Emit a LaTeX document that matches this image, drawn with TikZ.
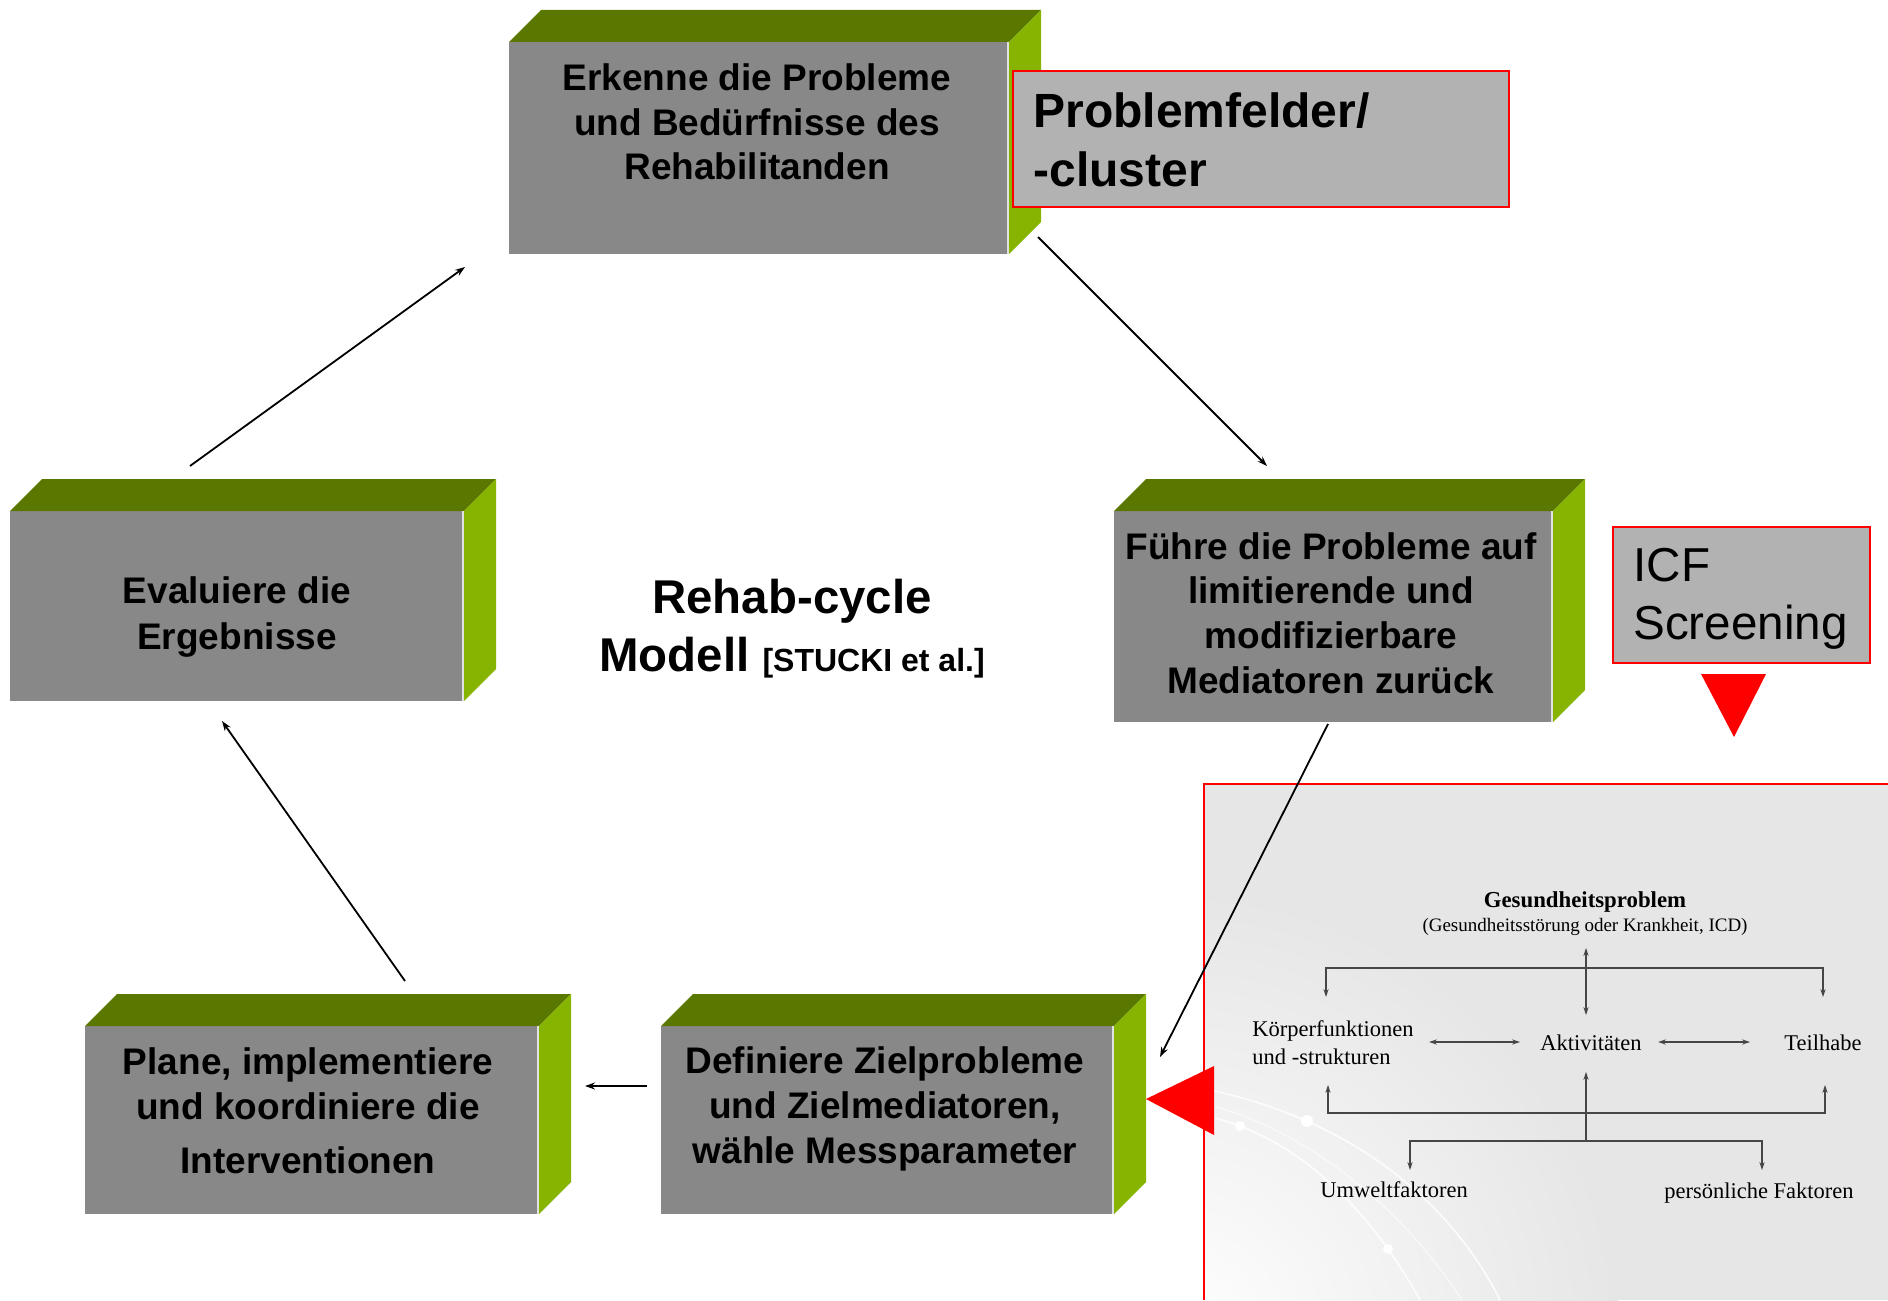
\documentclass[tikz,border=0pt]{standalone}
\usepackage{fontspec}
\setmainfont{Liberation Sans}
\newfontfamily\icfserif{Liberation Serif}
\usetikzlibrary{arrows.meta,calc}
\definecolor{frontgray}{RGB}{136,136,136}
\definecolor{topolive}{RGB}{90,120,0}
\definecolor{sidegreen}{RGB}{134,180,0}
\definecolor{labelgray}{RGB}{178,178,178}
\definecolor{panelgray}{RGB}{230,230,230}
\definecolor{icfline}{RGB}{70,70,70}
\newcommand\drawcubefaces[1]{%
  \fill[topface] (#1.north west) -- ++(32,-32) -- ($(#1.north east)+(32,-32)$) -- (#1.north east) -- cycle;
  \fill[sideface] (#1.north east) -- ++(32,-32) -- ($(#1.south east)+(32,-32)$) -- (#1.south east) -- cycle;
  \draw[edgelight] ([xshift=-0.6pt]#1.north east) -- ([xshift=-0.6pt]#1.south east);
}
\begin{document}
\begin{tikzpicture}[x=0.5pt,y=-0.5pt,
  front/.style={fill=frontgray, inner sep=0pt, outer sep=0pt},
  boxtext/.style={font=\fontsize{18.5pt}{22.3pt}\selectfont\bfseries, align=center, inner sep=0pt},
  topface/.style={fill=topolive},
  sideface/.style={fill=sidegreen},
  edgelight/.style={draw=white!75!frontgray, line width=1.2pt},
  redlabel/.style={fill=labelgray, draw=red, line width=1.2pt, inner sep=0pt},
  cycarrow/.style={-{Stealth[length=5pt,width=3.5pt]}, line width=0.9pt},
  icftext/.style={font=\icfserif\fontsize{11.25pt}{14pt}\selectfont, inner sep=0pt},
  icfarrow/.style={-{Stealth[length=4pt,width=2.6pt]}, line width=0.55pt, draw=icfline},
  icfdouble/.style={{Stealth[length=4pt,width=2.6pt]}-{Stealth[length=4pt,width=2.6pt]}, line width=0.55pt, draw=icfline},
]
\useasboundingbox (0,0) rectangle (1888,1300);
\fill[white] (0,0) rectangle (1888,1300);

% ---------- ICF panel ----------
\begin{scope}
  \clip (1204,784) rectangle (1888,1300);
  \fill[panelgray] (1204,784) rectangle (1888,1300);
  \shade[inner color=white, outer color=panelgray] (1170,1340) circle (450);
  \draw[white, opacity=0.85, line width=0.8pt] (1210,1090) .. controls (1350,1120) and (1450,1200) .. (1500,1300);
  \draw[white, opacity=0.85, line width=0.8pt] (1215,1118) .. controls (1300,1140) and (1370,1210) .. (1420,1300);
  \draw[white, opacity=0.6, line width=0.6pt] (1205,1104) .. controls (1290,1125) and (1390,1190) .. (1462,1300);
  \fill[white] (1307,1121) circle (6);
  \fill[white] (1240,1126) circle (5);
  \fill[white] (1388,1249) circle (5);
\end{scope}
\draw[red, line width=1.2pt] (1204,1300) -- (1204,784) -- (1888,784);

\node[icftext, font=\icfserif\bfseries\fontsize{11.4pt}{14pt}\selectfont] (gp) at (1585,902) {Gesundheitsproblem};
\node[icftext, font=\icfserif\fontsize{9.5pt}{12pt}\selectfont] (gpsub) at (1585,927) {(Gesundheitsstörung oder Krankheit, ICD)};
\node[icftext, anchor=west, align=left] (kf) at (1252,1043) {Körperfunktionen\\und -strukturen};
\node[icftext] (akt) at (1591,1043) {Aktivitäten};
\node[icftext] (teil) at (1823,1043) {Teilhabe};
\node[icftext] (umw) at (1394,1190) {Umweltfaktoren};
\node[icftext] (pers) at (1759,1193) {persönliche Faktoren};

\coordinate (gpA) at (1586,948);
\coordinate (aktTop) at (1586,1015);
\coordinate (topMid) at (1586,968);
\coordinate (kfTop) at (1326,997);
\coordinate (teilTop) at (1823,997);
\coordinate (kfRight) at (1429,1042);
\coordinate (aktLeft) at (1520,1042);
\coordinate (aktRight) at (1658,1042);
\coordinate (teilLeft) at (1750,1042);
\coordinate (kfBot) at (1328,1085);
\coordinate (teilBot) at (1825,1085);
\coordinate (midBar) at (1586,1113);
\coordinate (aktBot) at (1586,1072);
\coordinate (envMid) at (1586,1141);
\coordinate (umwTop) at (1410,1170);
\coordinate (persTop) at (1762,1170);

\draw[icfdouble] (gpA) -- (aktTop);
\draw[icfarrow] (topMid) -| (kfTop);
\draw[icfarrow] (topMid) -| (teilTop);
\draw[icfdouble] (kfRight) -- (aktLeft);
\draw[icfdouble] (aktRight) -- (teilLeft);
\draw[icfarrow] (midBar) -| (kfBot);
\draw[icfarrow] (midBar) -| (teilBot);
\draw[icfarrow] (envMid) -- (aktBot);
\draw[icfarrow] (envMid) -| (umwTop);
\draw[icfarrow] (envMid) -| (persTop);

% ---------- cubes ----------
\node[front, minimum width=250pt, minimum height=106pt] (erk) at (759,148) {};
\drawcubefaces{erk}
\node[boxtext] (erkT) at (757,122) {Erkenne die Probleme\\und Bedürfnisse des\\Rehabilitanden};

\node[front, minimum width=219.5pt, minimum height=105.5pt] (fuh) at (1333.5,616.5) {};
\drawcubefaces{fuh}
\node[boxtext] (fuhT) at (1331,613) {Führe die Probleme auf\\limitierende und\\modifizierbare\\Mediatoren zurück};

\node[front, minimum width=227pt, minimum height=95pt] (eva) at (237,606) {};
\drawcubefaces{eva}
\node[boxtext, font=\fontsize{18.5pt}{23.2pt}\selectfont\bfseries] (evaT) at (237,617) {Evaluiere die\\Ergebnisse};

\node[front, minimum width=227pt, minimum height=94pt] (pla) at (312,1120) {};
\drawcubefaces{pla}
\node[boxtext] (plaT) at (308,1111) {Plane, implementiere\\und koordiniere die\\[5pt]Interventionen};

\node[front, minimum width=226.5pt, minimum height=94pt] (def) at (887.5,1120) {};
\drawcubefaces{def}
\node[boxtext] (defT) at (885,1109) {Definiere Zielprobleme\\und Zielmediatoren,\\wähle Messparameter};

% ---------- labels ----------
\node[redlabel, minimum width=248pt, minimum height=68pt] (pf) at (1261,139) {};
\node[font=\fontsize{24pt}{29.5pt}\selectfont\bfseries, align=left, anchor=west, inner sep=0pt] (pfT) at (1033,140) {Problemfelder/\\-cluster};

\node[redlabel, minimum width=128.5pt, minimum height=68pt] (icf) at (1741.5,595) {};
\node[font=\fontsize{23.8pt}{29pt}\selectfont, align=left, anchor=west, inner sep=0pt] (icfT) at (1633,599) {ICF\\Screening};

\node[font=\fontsize{23.7pt}{29pt}\selectfont\bfseries, align=center, inner sep=0pt] (rehab) at (792,629) {Rehab-cycle\\Modell {\fontsize{16pt}{19pt}\selectfont [STUCKI et al.]}};

% red triangles
\fill[red] (1701,674) -- (1766,674) -- (1734,737) -- cycle;
\fill[red] (1146,1099) -- (1214,1066) -- (1214,1135) -- cycle;

% ---------- cycle arrows ----------
\coordinate (a1s) at (1038,237);
\coordinate (a1e) at (1267,466);
\coordinate (a2s) at (1328,724);
\coordinate (a2e) at (1160,1057);
\coordinate (a3s) at (647,1086);
\coordinate (a3e) at (585,1086);
\coordinate (a4s) at (405,981);
\coordinate (a4e) at (222,721);
\coordinate (a5s) at (190,466);
\coordinate (a5e) at (465,267);
\draw[cycarrow] (a1s) -- (a1e);
\draw[cycarrow] (a2s) -- (a2e);
\draw[cycarrow, line width=1.4pt] (a3s) -- (a3e);
\draw[cycarrow] (a4s) -- (a4e);
\draw[cycarrow] (a5s) -- (a5e);
\end{tikzpicture}
\end{document}
